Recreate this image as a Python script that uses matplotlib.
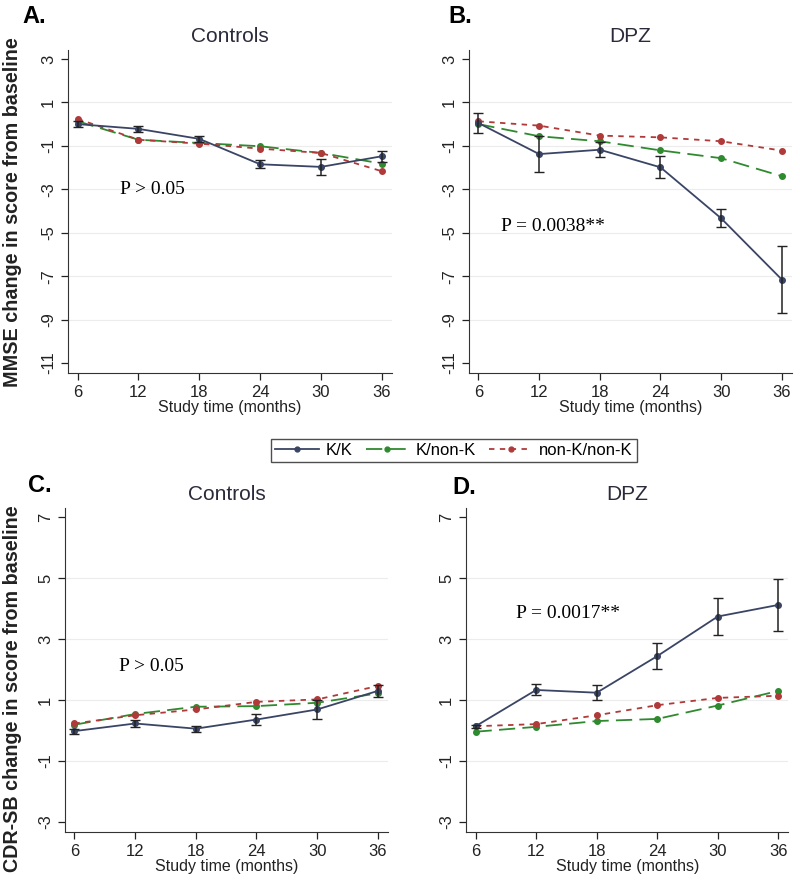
import matplotlib
matplotlib.use("Agg")
import matplotlib.pyplot as plt
import numpy as np

months = [6, 12, 18, 24, 30, 36]
groups = ["K/K", "K/non-K", "non-K/non-K"]

# MMSE, controls
mmse_ctrl_kk = [0.0, -0.22, -0.68, -1.85, -1.97, -1.48]
mmse_ctrl_kk_err = [0.15, 0.15, 0.15, 0.18, 0.37, 0.25]
mmse_ctrl_knk = [0.13, -0.72, -0.87, -1.02, -1.33, -1.82]
mmse_ctrl_nknk = [0.24, -0.72, -0.90, -1.13, -1.33, -2.17]
# MMSE, DPZ
mmse_dpz_kk = [0.05, -1.38, -1.18, -1.99, -4.34, -7.16]
mmse_dpz_kk_err = [0.44, 0.82, 0.35, 0.50, 0.42, 1.53]
mmse_dpz_knk = [0.0, -0.56, -0.79, -1.21, -1.57, -2.40]
mmse_dpz_nknk = [0.13, -0.07, -0.53, -0.61, -0.79, -1.22]
# CDR-SB, controls
cdr_ctrl_kk = [-0.02, 0.23, 0.06, 0.36, 0.69, 1.30]
cdr_ctrl_kk_err = [0.08, 0.12, 0.10, 0.19, 0.32, 0.20]
cdr_ctrl_knk = [0.19, 0.54, 0.78, 0.80, 0.91, 1.22]
cdr_ctrl_nknk = [0.23, 0.50, 0.69, 0.94, 1.02, 1.46]
# CDR-SB, DPZ
cdr_dpz_kk = [0.14, 1.33, 1.24, 2.44, 3.74, 4.12]
cdr_dpz_kk_err = [0.05, 0.18, 0.24, 0.43, 0.62, 0.85]
cdr_dpz_knk = [-0.04, 0.12, 0.31, 0.38, 0.82, 1.30]
cdr_dpz_nknk = [0.14, 0.21, 0.50, 0.83, 1.07, 1.14]

cols = ["#3a4565", "#2f8a2f", "#b03a3a"]
styles = ["-", (0, (9, 4)), (0, (3, 3))]

plt.rcParams['font.family'] = ['Liberation Sans', 'DejaVu Sans']

fig = plt.figure(figsize=(8, 8.81), dpi=100)

def pannello(rect, kk, kkerr, knk, nknk, yticks, ylim, titolo, lettera, ptxt, ppos):
  ax = fig.add_axes(rect)
  serie = [kk, knk, nknk]
  for i in [1, 2, 0]:
    ax.plot(months, serie[i], color=cols[i], linestyle=styles[i], lw=1.3,
            marker='o', ms=4, zorder=3 + (i == 0))
  ax.errorbar(months, kk, yerr=kkerr, fmt='none', ecolor='#222222', elinewidth=1.1,
              capsize=3.5, zorder=5)
  ax.set_xlim(5.05, 37.0)
  ax.set_ylim(*ylim)
  ax.set_xticks(months)
  ax.set_yticks(yticks)
  ax.set_yticklabels([str(v) for v in yticks], rotation=90, va='center')
  for v in yticks[1:-1]:
    ax.axhline(v, color='#ececec', lw=0.8, zorder=0)
  for s in ['top', 'right']:
    ax.spines[s].set_visible(False)
  for s in ['left', 'bottom']:
    ax.spines[s].set_color('#333333')
  ax.tick_params(labelsize=12, colors='#222222', length=5, width=0.9)
  ax.set_xlabel('Study time (months)', fontsize=11.5, color='#222222', labelpad=0)
  ax.set_title(titolo, fontsize=15, color='#2a2a3a', pad=6)
  ax.text(ppos[0], ppos[1], ptxt, fontsize=14, family='Liberation Serif', va='center')
  fig.text(lettera[1], lettera[2], lettera[0], fontsize=17, fontweight='bold', va='center')
  return ax

pannello([0.085, 0.5766, 0.405, 0.3666], mmse_ctrl_kk, mmse_ctrl_kk_err, mmse_ctrl_knk,
         mmse_ctrl_nknk, [3, 1, -1, -3, -5, -7, -9, -11], (-11.46, 3.41), 'Controls',
         ('A.', 0.028, 0.981), 'P > 0.05', (10.2, -3.0))
pannello([0.586, 0.5766, 0.404, 0.3666], mmse_dpz_kk, mmse_dpz_kk_err, mmse_dpz_knk,
         mmse_dpz_nknk, [3, 1, -1, -3, -5, -7, -9, -11], (-11.46, 3.41), 'DPZ',
         ('B.', 0.56, 0.981), 'P = 0.0038**', (8.2, -4.7))
pannello([0.081, 0.0556, 0.404, 0.3678], cdr_ctrl_kk, cdr_ctrl_kk_err, cdr_ctrl_knk,
         cdr_ctrl_nknk, [7, 5, 3, 1, -1, -3], (-3.33, 7.3), 'Controls',
         ('C.', 0.035, 0.449), 'P > 0.05', (10.4, 2.09))
pannello([0.5825, 0.0556, 0.403, 0.3678], cdr_dpz_kk, cdr_dpz_kk_err, cdr_dpz_knk,
         cdr_dpz_nknk, [7, 5, 3, 1, -1, -3], (-3.33, 7.3), 'DPZ',
         ('D.', 0.565, 0.447), 'P = 0.0017**', (10.05, 3.85))

fig.text(0.016, 0.759, 'MMSE change in score from baseline', rotation=90, fontsize=14.2,
         fontweight='bold', va='center', ha='center', color='#222222')
fig.text(0.016, 0.218, 'CDR-SB change in score from baseline', rotation=90, fontsize=14.2,
         fontweight='bold', va='center', ha='center', color='#222222')

handles = [plt.Line2D([], [], color=cols[i], linestyle=styles[i], lw=1.3, marker='o', ms=3.5)
           for i in range(3)]
leg = fig.legend(handles, groups, loc='center', bbox_to_anchor=(0.5675, 0.489), ncol=3,
                 fontsize=12, frameon=True, fancybox=False, handlelength=2.6,
                 columnspacing=0.8, handletextpad=0.4, borderpad=0.25)
leg.get_frame().set_edgecolor('#222222')
leg.get_frame().set_linewidth(1.0)

fig.savefig('out.png', dpi=100)
